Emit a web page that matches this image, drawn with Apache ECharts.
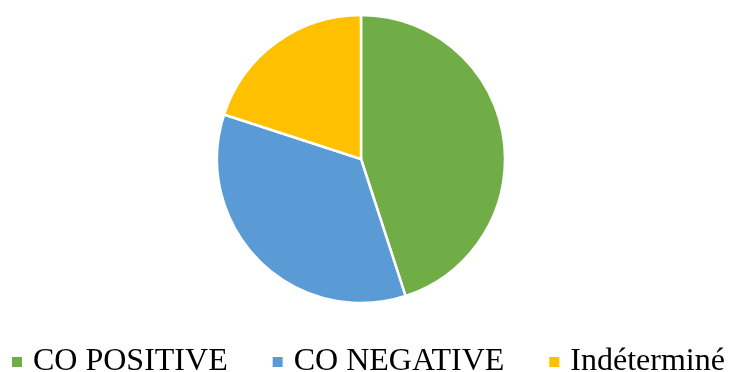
<!DOCTYPE html>
<html>
<head>
<meta charset="utf-8">
<script src="https://cdn.jsdelivr.net/npm/echarts@6/dist/echarts.min.js"></script>
<style>html,body{margin:0;padding:0;background:#fff}#c{width:729px;height:372px}</style>
</head>
<body>
<div id="c"></div>
<script>
const categories = ['CO POSITIVE', 'CO NEGATIVE', 'Indéterminé'];
const values = [45, 35, 20];
const colors = ['#70AD47', '#5B9BD5', '#FFC000'];

const chart = echarts.init(document.getElementById('c'), null, {renderer: 'canvas'});
chart.setOption({
  animation: false,
  color: colors,
  legend: {
    left: 12,
    top: 346,
    width: 717,
    padding: 0,
    itemWidth: 10,
    itemHeight: 10,
    itemGap: 45,
    icon: 'rect',
    itemStyle: {borderWidth: 0},
    textStyle: {
      fontFamily: '"Liberation Serif", "Times New Roman", serif',
      fontSize: 32,
      color: '#000',
      padding: [0, 0, 0, 6]
    },
    data: categories
  },
  series: [{
    type: 'pie',
    center: [361, 159],
    radius: 144,
    startAngle: 90,
    clockwise: true,
    label: {show: false},
    labelLine: {show: false},
    itemStyle: {borderColor: '#fff', borderWidth: 2.5},
    emphasis: {disabled: true},
    data: categories.map((n, i) => ({name: n, value: values[i]}))
  }]
});
</script>
</body>
</html>
